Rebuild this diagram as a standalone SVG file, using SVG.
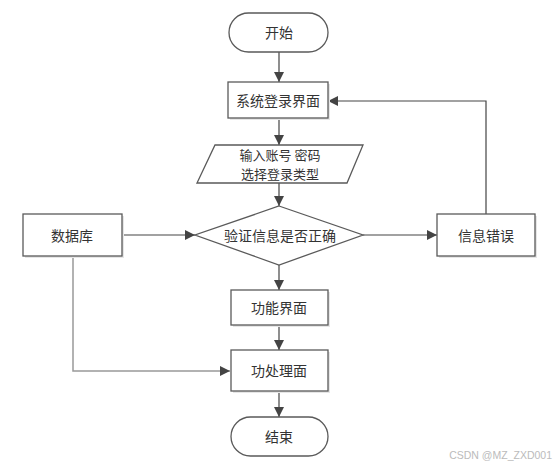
<svg xmlns="http://www.w3.org/2000/svg" width="557" height="468" viewBox="0 0 557 468">
<style>
.shape{fill:#fff;stroke:#5a5a5a;stroke-width:1.3}
.shadow{fill:#e6e6e6;stroke:none}
.t{font-family:"Noto Sans CJK SC","Liberation Sans",sans-serif;font-size:14px;fill:#333;text-anchor:middle;dominant-baseline:central}
.t2{font-size:13px}
.ln{fill:none;stroke:#444;stroke-width:1.2}
.lg{fill:none;stroke:#999;stroke-width:1.5}
.wm{font-family:"Liberation Sans",Arial,sans-serif;font-size:10.5px;fill:#bbb;text-anchor:end}
</style>
<defs>
<marker id="arr" viewBox="0 0 10 10" refX="10" refY="5" markerWidth="10" markerHeight="10" markerUnits="userSpaceOnUse" orient="auto">
<path d="M0,0 L10,5 L0,10 Z" fill="#444"/>
</marker>
</defs>
<rect width="557" height="468" fill="#fff"/>
<g id="connectors">
<line class="ln" x1="279" y1="52" x2="279" y2="82" marker-end="url(#arr)"/>
<line class="ln" x1="279" y1="118" x2="279" y2="145" marker-end="url(#arr)"/>
<line class="ln" x1="279" y1="183" x2="279" y2="206" marker-end="url(#arr)"/>
<line class="ln" x1="122" y1="235" x2="195" y2="235" marker-end="url(#arr)"/>
<line class="ln" x1="363" y1="235" x2="437" y2="235" marker-end="url(#arr)"/>
<polyline class="ln" points="486,214 486,101 328,101" marker-end="url(#arr)"/>
<line class="ln" x1="279" y1="265" x2="279" y2="290" marker-end="url(#arr)"/>
<line class="ln" x1="279" y1="325" x2="279" y2="350" marker-end="url(#arr)"/>
<polyline class="lg" points="73,256 73,371 230,371" marker-end="url(#arr)"/>
<line class="ln" x1="279" y1="391" x2="279" y2="417" marker-end="url(#arr)"/>
</g>
<g id="start">
<rect class="shape" x="229" y="13" width="99" height="39" rx="19.5"/>
<text class="t" x="279" y="32">开始</text>
</g>
<g id="login">
<rect class="shadow" x="230" y="84" width="100" height="36"/>
<rect class="shape" x="228" y="82" width="100" height="36"/>
<text class="t" x="278" y="100">系统登录界面</text>
</g>
<g id="input">
<polygon class="shape" points="215,145 363,145 347,183 197,183"/>
<text class="t t2" x="280" y="154">输入账号 密码</text>
<text class="t t2" x="280" y="173">选择登录类型</text>
</g>
<g id="db">
<rect class="shadow" x="25" y="216" width="99" height="42"/>
<rect class="shape" x="23" y="214" width="99" height="42"/>
<text class="t" x="72" y="235">数据库</text>
</g>
<g id="verify">
<polygon class="shape" points="279,206 363,235 279,265 195,235"/>
<text class="t" x="280" y="235">验证信息是否正确</text>
</g>
<g id="error">
<rect class="shadow" x="439" y="216" width="98" height="42"/>
<rect class="shape" x="437" y="214" width="98" height="42"/>
<text class="t" x="486" y="235">信息错误</text>
</g>
<g id="func">
<rect class="shadow" x="233" y="292" width="97" height="35"/>
<rect class="shape" x="231" y="290" width="97" height="35"/>
<text class="t" x="279" y="307">功能界面</text>
</g>
<g id="process">
<rect class="shadow" x="233" y="352" width="97" height="41"/>
<rect class="shape" x="231" y="350" width="97" height="41"/>
<text class="t" x="279" y="370">功处理面</text>
</g>
<g id="end">
<rect class="shape" x="231" y="417" width="97" height="39" rx="19.5"/>
<text class="t" x="279" y="436">结束</text>
</g>
<text class="wm" x="552" y="459">CSDN @MZ_ZXD001</text>
</svg>
